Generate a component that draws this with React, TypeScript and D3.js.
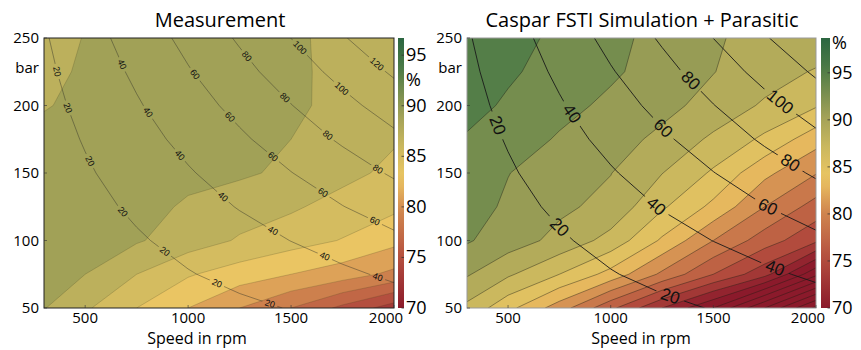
import React from 'react';
import * as d3 from 'd3';

// grid of operating points
const speeds = [300, 500, 750, 1000, 1250, 1500, 1750, 2000];
const pressures = [50, 75, 100, 125, 150, 175, 200, 225, 250];

// total efficiency in %, one row per pressure (50 bar first)
const measuredEfficiency = [
  [88.1, 86.3, 84.0, 82.0, 80.0, 78.0, 75.5, 73.0],
  [88.5, 88.0, 86.0, 84.2, 83.0, 82.0, 81.0, 79.5],
  [89.0, 88.8, 88.2, 87.0, 85.8, 84.8, 83.9, 82.6],
  [89.0, 89.0, 88.8, 87.7, 86.9, 86.3, 85.2, 84.4],
  [89.0, 89.0, 89.0, 88.6, 88.3, 87.6, 86.6, 85.5],
  [88.9, 89.0, 89.0, 89.0, 88.8, 88.0, 87.0, 86.2],
  [87.8, 88.7, 89.0, 89.0, 89.0, 88.4, 87.4, 86.6],
  [87.4, 88.3, 89.0, 89.0, 89.0, 88.35, 87.5, 86.9],
  [87.0, 88.1, 88.9, 89.0, 89.0, 88.3, 87.5, 87.0],
];

const simulatedEfficiency = [
  [87.5, 84.6, 81.0, 76.5, 72.0, 68.0, 62.0, 55.5],
  [90.2, 88.3, 86.0, 83.3, 79.6, 76.0, 72.7, 66.5],
  [92.2, 91.0, 89.4, 87.3, 83.7, 80.0, 77.0, 74.4],
  [92.8, 91.7, 90.4, 89.4, 86.3, 83.5, 80.0, 77.2],
  [93.3, 92.05, 91.0, 90.05, 88.05, 85.7, 82.5, 80.1],
  [93.8, 93.0, 91.8, 90.7, 89.6, 87.6, 85.6, 82.8],
  [94.7, 93.7, 92.6, 91.6, 90.5, 89.4, 87.7, 86.2],
  [95.3, 94.3, 93.2, 92.3, 91.2, 90.05, 89.0, 87.8],
  [95.8, 95.0, 93.4, 92.5, 91.4, 90.1, 89.7, 89.5],
];

// unit displacement (cm3/rev) and constant loss (kW) for the power isolines
const displacement = 145;
const powerOffset = 2.5;
const powerLevels = [20, 40, 60, 80, 100, 120];

// [power level, speed where the label sits]
const measuredPowerLabels = [
  [20, 363], [20, 416], [20, 523], [20, 683], [20, 887], [20, 1140], [20, 1397],
  [40, 679], [40, 805], [40, 960], [40, 1169], [40, 1412], [40, 1664], [40, 1921],
  [60, 1033], [60, 1203], [60, 1412], [60, 1655], [60, 1907],
  [80, 1285], [80, 1470], [80, 1678], [80, 1922],
  [100, 1543], [100, 1746],
  [120, 1917],
];
const simulatedPowerLabels = [
  [20, 448], [20, 750], [20, 1290],
  [40, 810], [40, 1221], [40, 1800],
  [60, 1255], [60, 1765],
  [80, 1389], [80, 1874],
  [100, 1825],
];

const speedTicks = [500, 1000, 1500, 2000];
const pressureTicks = [50, 100, 150, 200, 250];
const barTicks = [70, 75, 80, 85, 90, 95];

// colormap, position 0..1 from 70 % up to the top of each colour bar
const colorStops = [0, 0.18, 0.36, 0.48, 0.6, 0.71, 0.82, 0.89, 1];
const colorStopColors = ['#8b1a2b', '#b34d3e', '#d1874f', '#ecc663', '#c9b75e', '#a2a157', '#6c894c', '#4b7a46', '#2b6641'];

const TOP = 38;
const BOTTOM = 308;
const nx = speeds.length;
const ny = pressures.length;
const idxToSpeed = d3.scaleLinear().domain(d3.range(nx)).range(speeds).clamp(true);
const idxToPressure = d3.scaleLinear().domain(d3.range(ny)).range(pressures).clamp(true);

const powerGrid = pressures.map((p, j) =>
  speeds.map((n, i) => (p * n * displacement) / 600000 / (measuredEfficiency[j][i] / 100) - powerOffset)
);

type Pt = [number, number];

function Panel(props: any) {
  const { id, left, right, grid, thresholds, step, vmax, labels, title, titleX, xTitleX, barX, barW, percentValue, labelSize, effStroke, effWidth, powStroke, powWidth, border, yLabelX } = props;
  const x = d3.scaleLinear().domain([300, 2000]).range([left, right]);
  const y = d3.scaleLinear().domain([50, 250]).range([BOTTOM, TOP]);
  const cb = d3.scaleLinear().domain([70, vmax]).range([BOTTOM, TOP]);
  const color = d3
    .scaleLinear<string>()
    .domain(colorStops.map((t) => 70 + t * (vmax - 70)))
    .range(colorStopColors)
    .interpolate(d3.interpolateRgb)
    .clamp(true);

  const toPx = (c: number[]): Pt => [x(idxToSpeed(c[0] - 0.5)), y(idxToPressure(c[1] - 0.5))];
  const eps = 0.01;
  const sameEdge = (a: Pt, b: Pt) =>
    (Math.abs(a[0] - left) < eps && Math.abs(b[0] - left) < eps) ||
    (Math.abs(a[0] - right) < eps && Math.abs(b[0] - right) < eps) ||
    (Math.abs(a[1] - TOP) < eps && Math.abs(b[1] - TOP) < eps) ||
    (Math.abs(a[1] - BOTTOM) < eps && Math.abs(b[1] - BOTTOM) < eps);

  const rings = (mp: any): Pt[][] => mp.coordinates.flatMap((poly: any) => poly.map((r: any) => r.map(toPx)));
  const areaPath = (mp: any) =>
    rings(mp).map((r) => 'M' + r.map((p) => p[0].toFixed(2) + ',' + p[1].toFixed(2)).join('L') + 'Z').join('');
  const linePath = (mp: any) => {
    let d = '';
    rings(mp).forEach((r) => {
      let pen = false;
      for (let i = 1; i < r.length; i++) {
        const a = r[i - 1], b = r[i];
        if (sameEdge(a, b)) { pen = false; continue; }
        if (!pen) { d += 'M' + a[0].toFixed(2) + ',' + a[1].toFixed(2); pen = true; }
        d += 'L' + b[0].toFixed(2) + ',' + b[1].toFixed(2);
      }
    });
    return d;
  };

  const bands = d3.contours().size([nx, ny]).thresholds(thresholds)(grid.flat());
  const power = d3.contours().size([nx, ny]).thresholds(powerLevels)(powerGrid.flat());

  const placed = labels
    .map(([level, speed]: number[]) => {
      const mp = power.find((c) => c.value === level);
      if (!mp) return null;
      const tx = x(speed);
      for (const r of rings(mp)) {
        for (let i = 1; i < r.length; i++) {
          const a = r[i - 1], b = r[i];
          if (sameEdge(a, b) || a[0] === b[0]) continue;
          if ((a[0] - tx) * (b[0] - tx) <= 0) {
            const t = (tx - a[0]) / (b[0] - a[0]);
            let ang = (Math.atan2(b[1] - a[1], b[0] - a[0]) * 180) / Math.PI;
            if (ang > 90) ang -= 180;
            if (ang < -90) ang += 180;
            return { level, x: tx, y: a[1] + t * (b[1] - a[1]), ang };
          }
        }
      }
      return null;
    })
    .filter(Boolean) as { level: number; x: number; y: number; ang: number }[];

  const gradStops = d3.range(0, 1.0001, 0.05);

  return (
    <g>
      <defs>
        <clipPath id={`clip-${id}`}>
          <rect x={left} y={TOP} width={right - left} height={BOTTOM - TOP} />
        </clipPath>
        <mask id={`mask-${id}`} maskUnits="userSpaceOnUse" x={0} y={0} width={861} height={350}>
          <rect x={0} y={0} width={861} height={350} fill="#fff" />
          {placed.map((l, i) => {
            const w = String(l.level).length * labelSize * 0.62 + labelSize * 0.5;
            const h = labelSize * 0.85;
            return (
              <rect key={i} x={-w / 2} y={-h / 2} width={w} height={h} fill="#000"
                transform={`translate(${l.x},${l.y}) rotate(${l.ang})`} />
            );
          })}
        </mask>
        <linearGradient id={`grad-${id}`} x1="0" y1="1" x2="0" y2="0">
          {gradStops.map((t) => (
            <stop key={t} offset={t} stopColor={color(70 + t * (vmax - 70))} />
          ))}
        </linearGradient>
      </defs>

      <g clipPath={`url(#clip-${id})`}>
        <rect x={left} y={TOP} width={right - left} height={BOTTOM - TOP} fill={color(thresholds[0] - step / 2)} />
        {bands.map((c) => (
          <path key={c.value} d={areaPath(c)} fill={color(c.value + step / 2)} fillRule="evenodd" />
        ))}
        {bands.map((c) => (
          <path key={'l' + c.value} d={linePath(c)} fill="none" stroke={effStroke} strokeWidth={effWidth} />
        ))}
        <g mask={`url(#mask-${id})`}>
          {power.map((c) => (
            <path key={'p' + c.value} d={linePath(c)} fill="none" stroke={powStroke} strokeWidth={powWidth} />
          ))}
        </g>
      </g>
      {placed.map((l, i) => (
        <text key={i} transform={`translate(${l.x},${l.y}) rotate(${l.ang})`} textAnchor="middle"
          dominantBaseline="central" fontSize={labelSize} fontFamily="'Liberation Sans', Arial, sans-serif" fill="#111">
          {l.level}
        </text>
      ))}

      <rect x={left} y={TOP} width={right - left} height={BOTTOM - TOP} fill="none" stroke={border} strokeWidth={1} />
      {speedTicks.map((t) => (
        <line key={'xt' + t} x1={x(t)} x2={x(t)} y1={BOTTOM} y2={BOTTOM - 3} stroke="#333" strokeWidth={0.6} />
      ))}
      {pressureTicks.map((t) => (
        <line key={'yt' + t} x1={left} x2={left + 3} y1={y(t)} y2={y(t)} stroke="#333" strokeWidth={0.6} />
      ))}

      {speedTicks.map((t, i) => (
        <text key={'xl' + t} x={x(t) + (i === speedTicks.length - 1 ? -8 : 0)} y={323} textAnchor="middle" fontSize={15}>
          {t}
        </text>
      ))}
      {pressureTicks.map((t) => (
        <text key={'yl' + t} x={yLabelX} y={y(t) + 5} textAnchor="end" fontSize={15}>
          {t}
        </text>
      ))}
      <text x={yLabelX} y={y(228) + 5} textAnchor="end" fontSize={15}>bar</text>
      <text x={xTitleX} y={344} textAnchor="middle" fontSize={16}>Speed in rpm</text>
      <text x={titleX} y={27} textAnchor="middle" fontSize={20}>{title}</text>

      <rect x={barX} y={TOP} width={barW} height={BOTTOM - TOP} fill={`url(#grad-${id})`} />
      {barTicks.map((t) => (
        <line key={'bt' + t} x1={barX + barW - 2.5} x2={barX + barW} y1={cb(t)} y2={cb(t)} stroke="#333" strokeWidth={0.8} />
      ))}
      {barTicks.map((t) => (
        <text key={'bl' + t} x={barX + barW + 2} y={cb(t) + 6} fontSize={18}>
          {t}
        </text>
      ))}
      <text x={barX + barW + 2} y={cb(percentValue) + 6} fontSize={18}>%</text>
    </g>
  );
}

export default function App() {
  return (
    <svg width={861} height={350} style={{ position: 'absolute', left: 0, top: 0, background: '#fff' }}
      fontFamily="'Open Sans', sans-serif">
      <Panel id="meas" left={44} right={394} grid={measuredEfficiency} thresholds={d3.range(72, 91, 2)} step={2}
        vmax={96.7} labels={measuredPowerLabels} title="Measurement" titleX={220} xTitleX={197}
        barX={398} barW={6} percentValue={92.5} labelSize={9} yLabelX={39}
        effStroke="rgba(60,60,30,0.35)" effWidth={0.6} powStroke="rgba(50,50,40,0.75)" powWidth={0.6} border="#222" />
      <Panel id="sim" left={467} right={816} grid={simulatedEfficiency} thresholds={d3.range(50, 97, 2)} step={2}
        vmax={98.7} labels={simulatedPowerLabels} title="Caspar FSTI Simulation + Parasitic" titleX={642} xTitleX={641}
        barX={821} barW={9} percentValue={98.2} labelSize={17} yLabelX={462}
        effStroke="rgba(30,30,20,0.6)" effWidth={0.7} powStroke="#1a1a1a" powWidth={0.9} border="#999" />
    </svg>
  );
}
